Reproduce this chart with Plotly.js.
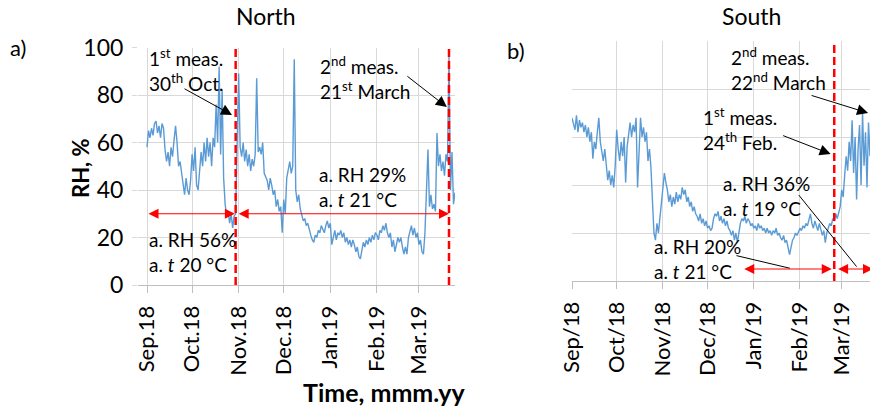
<!DOCTYPE html>
<html>
<head>
<meta charset="utf-8">
<script src="https://cdn.plot.ly/plotly-3.0.1.min.js"></script>
<style>
  html, body { margin: 0; padding: 0; overflow: hidden; background: #fff; }
  #chart { width: 870px; height: 407px; }
</style>
</head>
<body>
<div id="chart"></div>
<script>
// Daily relative humidity (%) in the two rooms, first value on the start date
const northStart = '2018-09-01';
const northRH = [
  58, 65, 62, 66, 63, 68, 69, 64, 67, 62,
  68, 66, 57, 52, 56, 50, 58, 54, 61, 67,
  60, 50, 52, 47, 43, 38, 45, 40, 38, 44,
  55, 48, 58, 42, 40, 48, 56, 50, 60, 52,
  62, 54, 60, 50, 62, 58, 76, 60, 92, 55,
  82, 45, 34, 29, 31, 26, 30, 24, 29, 30,
  62, 89, 58, 54, 60, 52, 57, 50, 55, 48,
  53, 50, 55, 87, 56, 58, 55, 60, 47, 45,
  44, 40, 45, 42, 38, 40, 33, 36, 31, 33,
  22, 36, 30, 45, 48, 52, 47, 50, 95, 40,
  35, 38, 32, 30, 27, 28, 25, 26, 23, 21,
  19, 18, 21, 20, 23, 22, 25, 23, 22, 25,
  27, 24, 26, 17, 20, 23, 19, 22, 21, 23,
  20, 22, 18, 20, 17, 19, 16, 19, 17, 14,
  16, 12, 11, 15, 18, 16, 19, 17, 20, 18,
  21, 19, 22, 21, 19, 23, 22, 25, 23, 26,
  22, 20, 22, 16, 19, 14, 18, 20, 18, 20,
  16, 13, 16, 13, 20, 23, 25, 21, 24, 20,
  22, 17, 19, 14, 13, 22, 40, 57, 33, 38,
  32, 34, 31, 64, 50, 55, 48, 52, 46, 55,
  52, 96, 40, 56, 34, 39
];

const southStart = '2018-09-01';
const southRH = [
  68, 66, 63, 69, 62, 67, 64, 66, 62, 65,
  60, 64, 58, 62, 51, 58, 55, 62, 68, 58,
  54, 50, 55, 47, 42, 46, 40, 44, 39, 48,
  63, 55, 50, 58, 52, 60, 41, 56, 62, 66,
  60, 65, 62, 68, 39, 58, 68, 60, 64, 58,
  62, 50, 55, 47, 30, 20, 17, 24, 20, 27,
  33, 40, 45, 41, 38, 33, 36, 31, 35, 32,
  37, 33, 36, 34, 39, 36, 38, 33, 35, 31,
  33, 29, 31, 28, 27, 25, 28, 24, 26, 23,
  25, 22, 23, 21, 22, 26, 28, 27, 29, 25,
  27, 24, 26, 23, 25, 22, 21, 19, 21, 17,
  20, 16, 21, 24, 26, 25, 27, 24, 26, 25,
  23, 24, 22, 23, 21, 24, 22, 23, 21, 22,
  20, 22, 20, 21, 19, 21, 20, 22, 19, 20,
  18, 17, 19, 16, 17, 13, 11, 14, 17, 18,
  20, 19, 21, 22, 21, 23, 22, 24, 23, 25,
  28, 24, 22, 25, 23, 21, 24, 22, 19, 21,
  16, 20, 22, 24, 23, 26, 25, 28, 26, 29,
  31, 38, 35, 44, 52, 46, 58, 50, 67, 45,
  60, 34, 55, 65, 40, 70, 48, 62, 39, 66,
  52
];

// Measurement campaign dates
const northMeasDates = ['2018-10-30', '2019-03-21'];
const southMeasDates = ['2019-02-24', '2019-03-22'];

// Average conditions between the campaigns
const northAvgLabels = ['a. RH 56%<br>a. <i>t</i> 20 °C', 'a. RH 29%<br>a. <i>t</i> 21 °C'];
const southAvgLabels = ['a. RH 20%<br>a. <i>t</i> 21 °C', 'a. RH 36%<br>a. <i>t</i> 19 °C'];

const panelTitles = ['North', 'South'];
const panelLetters = ['a)', 'b)'];
const yTitle = 'RH, %';
const xTitle = 'Time, mmm.yy';

// Build one timestamp per day from the start date
function dailyDates(start, n) {
  const t0 = Date.parse(start + 'T00:00:00Z');
  const out = [];
  for (let i = 0; i < n; i++) {
    out.push(new Date(t0 + i * 86400000).toISOString().slice(0, 10));
  }
  return out;
}

const BLUE = '#5B9BD5';
const RED = '#FF0000';
const GRID = '#d9d9d9';
const AXIS = '#bfbfbf';
const FONT = 'Lato, "Open Sans", sans-serif';

const traces = [
  { x: dailyDates(northStart, northRH.length), y: northRH, type: 'scatter', mode: 'lines',
    line: { color: BLUE, width: 1.4 }, xaxis: 'x', yaxis: 'y', hoverinfo: 'skip' },
  { x: dailyDates(southStart, southRH.length), y: southRH, type: 'scatter', mode: 'lines',
    line: { color: BLUE, width: 1.4 }, xaxis: 'x2', yaxis: 'y2', hoverinfo: 'skip' }
];

function measLine(date, xref, yref) {
  return { type: 'line', xref: xref, yref: yref, x0: date, x1: date, y0: 0, y1: 100,
           line: { color: RED, width: 2.5, dash: '8px,4px' } };
}
const shapes = [
  measLine(northMeasDates[0], 'x', 'y'),
  measLine(northMeasDates[1], 'x', 'y'),
  measLine(southMeasDates[0], 'x2', 'y2'),
  measLine(southMeasDates[1], 'x2', 'y2')
];

function paperText(text, px, py, opts) {
  return Object.assign({
    text: text, xref: 'paper', yref: 'paper', x: px / 870, y: 1 - py / 407,
    xanchor: 'left', yanchor: 'middle', align: 'left', showarrow: false,
    font: { family: FONT, size: 19, color: '#000' }
  }, opts || {});
}

// Black pointer arrows (head in data units, tail offset in pixels)
function pointer(xref, yref, x, y, ax, ay, head) {
  return { text: '', xref: xref, yref: yref, x: x, y: y, ax: ax, ay: ay,
           showarrow: true, arrowhead: head, arrowsize: 2.2, arrowwidth: 1,
           arrowcolor: '#000', standoff: 0 };
}

// Red double-headed span arrows (both ends in data units)
function span(xref, yref, x0, x1, y) {
  return { text: '', xref: xref, yref: yref, x: x1, y: y, ax: x0, ay: y,
           axref: xref, ayref: yref, showarrow: true, arrowside: 'end+start',
           arrowhead: 2, startarrowhead: 2, arrowsize: 2, startarrowsize: 2,
           arrowwidth: 1, arrowcolor: RED, standoff: 0, startstandoff: 0 };
}

const annotations = [
  paperText(panelTitles[0], 266, 16, { xanchor: 'center', font: { family: FONT, size: 23, color: '#000' } }),
  paperText(panelTitles[1], 751, 16, { xanchor: 'center', font: { family: FONT, size: 23, color: '#000' } }),
  paperText(panelLetters[0], 8, 48, { font: { family: FONT, size: 22, color: '#000' } }),
  paperText(panelLetters[1], 505, 50, { font: { family: FONT, size: 22, color: '#000' } }),
  paperText('<b>' + yTitle + '</b>', 80, 168, { xanchor: 'center', textangle: -90,
    font: { family: FONT, size: 22, color: '#000' } }),
  paperText('<b>' + xTitle + '</b>', 384, 392, { xanchor: 'center',
    font: { family: FONT, size: 25, color: '#000' } }),

  paperText('1<sup>st</sup> meas.<br>30<sup>th</sup> Oct.', 147, 69.5),
  paperText('2<sup>nd</sup> meas.<br>21<sup>st</sup> March', 318, 78),
  paperText(northAvgLabels[0], 147, 251.5),
  paperText(northAvgLabels[1], 317, 186.5),

  paperText('2<sup>nd</sup> meas.<br>22<sup>nd</sup> March', 729, 69),
  paperText('1<sup>st</sup> meas.<br>24<sup>th</sup> Feb.', 701, 128.5),
  paperText(southAvgLabels[1], 721, 196),
  paperText(southAvgLabels[0], 652, 259),

  pointer('x', 'y', '2018-10-27 14:00', 71.6, -49, -27, 2),
  pointer('x', 'y', '2019-03-19 14:00', 74.9, -41, -32, 2),
  pointer('x2', 'y2', '2019-03-18 17:00', 70, -58, -18, 2),
  pointer('x2', 'y2', '2019-02-21 14:00', 52.9, -49, -19, 2),
  pointer('x2', 'y2', '2019-03-11', 6, -59, -73, 0),
  pointer('x2', 'y2', '2019-01-25 07:00', 5.3, -55, -13, 0),

  span('x', 'y', '2018-09-01', '2018-10-29 12:00', 30),
  span('x', 'y', '2018-10-31', '2019-03-21', 30),
  span('x2', 'y2', '2018-12-24 14:00', '2019-02-22 08:00', 5),
  span('x2', 'y2', '2019-02-25 14:00', '2019-03-22', 5)
];

const dateAxis = {
  type: 'date', tick0: '2018-09-01', dtick: 'M1', tickangle: -90,
  ticks: 'outside', ticklen: 7, tickcolor: AXIS, tickwidth: 1,
  showgrid: true, gridcolor: GRID, gridwidth: 1,
  showline: true, linecolor: AXIS, linewidth: 1, zeroline: false,
  ticklabelstandoff: 4,
  tickfont: { family: FONT, size: 22, color: '#000' }, automargin: false
};

const layout = {
  width: 870, height: 407,
  margin: { l: 0, r: 0, t: 0, b: 0 },
  paper_bgcolor: '#fff', plot_bgcolor: '#fff',
  showlegend: false,
  font: { family: FONT, color: '#000' },
  xaxis: Object.assign({}, dateAxis, {
    domain: [138 / 870, 455 / 870], range: ['2018-08-26', '2019-03-25'],
    tickformat: '%b.%y', anchor: 'y'
  }),
  yaxis: {
    domain: [1 - 285 / 407, 1 - 47.5 / 407], range: [0, 100], dtick: 20,
    ticks: 'outside', ticklen: 5, tickcolor: GRID, gridcolor: GRID, zeroline: false,
    showline: false, ticklabelstandoff: 4,
    tickfont: { family: FONT, size: 23, color: '#000' },
    anchor: 'x', automargin: false
  },
  xaxis2: Object.assign({}, dateAxis, {
    domain: [572 / 870, 1], range: ['2018-09-01', '2019-03-20'],
    tickformat: '%b/%y', anchor: 'y2'
  }),
  yaxis2: {
    domain: [1 - 281 / 407, 1 - 41 / 407], range: [0, 100], dtick: 20,
    showticklabels: false, ticks: '', gridcolor: GRID, zeroline: false,
    showline: false, anchor: 'x2', automargin: false
  },
  shapes: shapes,
  annotations: annotations
};

Plotly.newPlot('chart', traces, layout, { staticPlot: true, displayModeBar: false })
  .then(function (gd) {
    // arrow-only annotations and unused titles leave empty text nodes behind
    gd.querySelectorAll('svg text').forEach(function (t) {
      if (!t.textContent.trim()) t.remove();
    });
  });
</script>
</body>
</html>
